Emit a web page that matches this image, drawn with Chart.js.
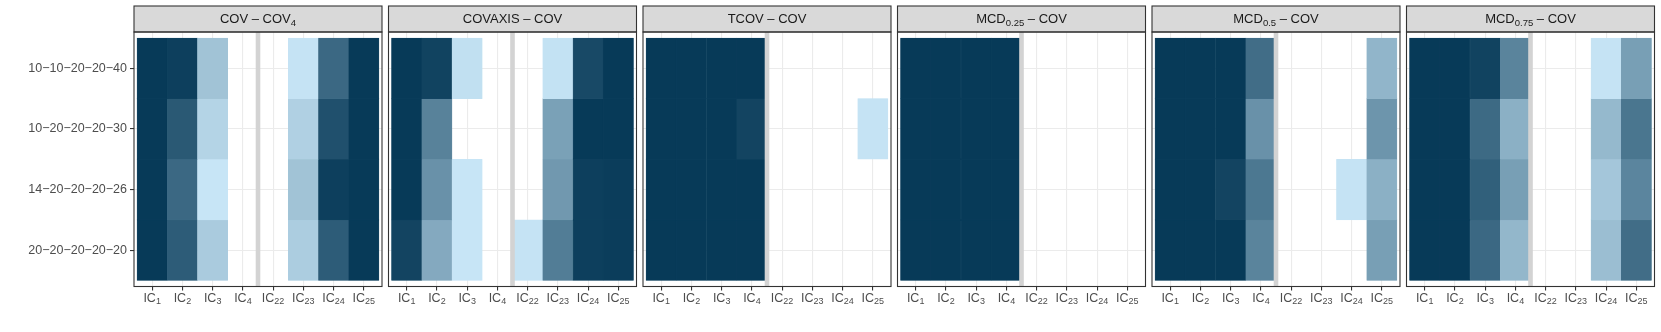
<!DOCTYPE html>
<html>
<head>
<meta charset="utf-8">
<script src="https://cdn.jsdelivr.net/npm/chart.js@4.4.1/dist/chart.umd.min.js"></script>
<style>
  body { margin: 0; background: #fff; }
  #wrap { position: relative; width: 1661px; height: 332px; overflow: hidden; }
  #wrap canvas { position: absolute; top: 0; }
</style>
</head>
<body>
<div id="wrap"></div>
<script>
// rows, top to bottom
const rowLabels = ['10\u221210\u221220\u221220\u221240', '10\u221220\u221220\u221220\u221230', '14\u221220\u221220\u221220\u221226', '20\u221220\u221220\u221220\u221220'];
// x categories are IC with these subscripts
const icSubs = ['1', '2', '3', '4', '22', '23', '24', '25'];
const lastOfFirstGroup = '4';
// facet titles: [text, subscript, text after]
const panelTitles = [
  ['COV \u2013 COV', '4', ''],
  ['COVAXIS \u2013 COV', '', ''],
  ['TCOV \u2013 COV', '', ''],
  ['MCD', '0.25', ' \u2013 COV'],
  ['MCD', '0.5', ' \u2013 COV'],
  ['MCD', '0.75', ' \u2013 COV']
];

// cell values (0 = lightest, 1 = darkest), null = empty cell
const covCov4 = [
  [1.00, 0.97, 0.20, null, null, 0.01, 0.73, 1.00],
  [1.00, 0.82, 0.10, null, null, 0.12, 0.87, 1.00],
  [1.00, 0.73, 0.00, null, null, 0.20, 0.97, 1.00],
  [1.00, 0.80, 0.15, null, null, 0.14, 0.80, 1.00]
];
const covaxisCov = [
  [1.00, 0.95, 0.03, null, null, 0.02, 0.91, 1.00],
  [1.00, 0.58, null, null, null, 0.40, 1.00, 1.00],
  [1.00, 0.49, 0.00, null, null, 0.45, 0.97, 0.98],
  [0.94, 0.35, 0.00, null, 0.01, 0.61, 0.97, 0.98]
];
const tcovCov = [
  [1.00, 1.00, 1.00, 1.00, null, null, null, null],
  [1.00, 1.00, 1.00, 0.94, null, null, null, 0.01],
  [1.00, 1.00, 1.00, 1.00, null, null, null, null],
  [1.00, 1.00, 1.00, 1.00, null, null, null, null]
];
const mcd025Cov = [
  [1.00, 1.00, 1.00, 1.00, null, null, null, null],
  [1.00, 1.00, 1.00, 1.00, null, null, null, null],
  [1.00, 1.00, 1.00, 1.00, null, null, null, null],
  [1.00, 1.00, 1.00, 1.00, null, null, null, null]
];
const mcd05Cov = [
  [1.00, 1.00, 1.00, 0.70, null, null, null, 0.28],
  [1.00, 1.00, 1.00, 0.49, null, null, null, 0.47],
  [1.00, 1.00, 0.94, 0.64, null, null, 0.01, 0.31],
  [1.00, 1.00, 1.00, 0.57, null, null, null, 0.41]
];
const mcd075Cov = [
  [1.00, 1.00, 0.95, 0.57, null, null, 0.01, 0.41],
  [1.00, 1.00, 0.72, 0.31, null, null, 0.26, 0.65],
  [1.00, 1.00, 0.78, 0.41, null, null, 0.18, 0.56],
  [1.00, 1.00, 0.73, 0.27, null, null, 0.23, 0.70]
];
const panelValues = [covCov4, covaxisCov, tcovCov, mcd025Cov, mcd05Cov, mcd075Cov];

// layout
const FONT = '"Liberation Sans", Arial, Helvetica, sans-serif';
const H = 332;
const PANEL_LEFT0 = 134, PANEL_STEP = 254.5, PANEL_W = 248;
const PANEL_TOP = 32, PANEL_BOTTOM = 286.5, STRIP_TOP = 6;
const TICK_LEN = 4;

const LOW = [199, 229, 246], HIGH = [7, 58, 88];
function fillFor(v) {
  const c = LOW.map((l, k) => Math.round(l + (HIGH[k] - l) * v));
  return 'rgb(' + c.join(',') + ')';
}

// text with a subscript part, centred on cx
function drawRich(ctx, cx, y, parts, size, subSize, drop, color) {
  const [a, s, b] = parts;
  ctx.font = size + 'px ' + FONT;
  const wa = ctx.measureText(a).width;
  const wb = b ? ctx.measureText(b).width : 0;
  ctx.font = subSize + 'px ' + FONT;
  const ws = s ? ctx.measureText(s).width : 0;
  let x = cx - (wa + ws + wb) / 2;
  ctx.fillStyle = color;
  ctx.textAlign = 'left';
  ctx.textBaseline = 'alphabetic';
  ctx.font = size + 'px ' + FONT;
  ctx.fillText(a, x, y);
  x += wa;
  if (s) {
    ctx.font = subSize + 'px ' + FONT;
    ctx.fillText(s, x, y + drop);
    x += ws;
  }
  if (b) {
    ctx.font = size + 'px ' + FONT;
    ctx.fillText(b, x, y);
  }
}

const facetPlugin = {
  id: 'facet',
  afterDatasetsDraw(chart) {
    const ctx = chart.ctx;
    const {top, bottom} = chart.chartArea;
    const sep = chart.scales.x.getPixelForValue(icSubs.indexOf(lastOfFirstGroup) + 0.5);
    ctx.save();
    ctx.fillStyle = '#d3d3d3';
    ctx.fillRect(sep - 2.3, top, 4.6, bottom - top);
    ctx.restore();
  },
  afterDraw(chart, args, opts) {
    const ctx = chart.ctx;
    const {left, right, top, bottom} = chart.chartArea;
    ctx.save();
    // strip
    ctx.fillStyle = '#d9d9d9';
    ctx.fillRect(left, STRIP_TOP, right - left, top - STRIP_TOP);
    ctx.strokeStyle = '#333333';
    ctx.lineWidth = 1.1;
    ctx.strokeRect(left, STRIP_TOP, right - left, top - STRIP_TOP);
    // panel border
    ctx.strokeRect(left, top, right - left, bottom - top);
    drawRich(ctx, (left + right) / 2, 23, panelTitles[opts.index], 13, 9.5, 2.5, '#1a1a1a');
    // x tick labels
    icSubs.forEach((s, k) => {
      const x = chart.scales.x.getPixelForValue(k);
      drawRich(ctx, x, 302.3, ['IC', s, ''], 12.5, 9, 2, '#4d4d4d');
    });
    ctx.restore();
  }
};

const wrap = document.getElementById('wrap');

function makePanel(i) {
  const first = i === 0;
  const panelLeft = PANEL_LEFT0 + i * PANEL_STEP;
  const canvasLeft = first ? 0 : Math.floor(panelLeft) - 3;
  const canvasRight = Math.ceil(panelLeft + PANEL_W) + 3;
  const width = canvasRight - canvasLeft;

  const canvas = document.createElement('canvas');
  canvas.width = width;
  canvas.height = H;
  canvas.style.left = canvasLeft + 'px';
  canvas.style.width = width + 'px';
  canvas.style.height = H + 'px';
  wrap.appendChild(canvas);

  const datasets = panelValues[i].map((row, r) => {
    const data = [];
    row.forEach((v, c) => {
      if (v !== null) data.push({x: c, y: [3 - r, 4 - r], v: v});
    });
    return {
      data: data,
      backgroundColor: ctx => fillFor(ctx.raw.v),
      // faint seam, a touch lighter than the tile
      borderColor: ctx => fillFor(ctx.raw.v * 0.97),
      borderWidth: 0.5,
      borderSkipped: false,
      grouped: false,
      barPercentage: 1,
      categoryPercentage: 1
    };
  });

  new Chart(canvas, {
    type: 'bar',
    data: {datasets: datasets},
    plugins: [facetPlugin],
    options: {
      responsive: false,
      animation: false,
      events: [],
      layout: {
        padding: {
          left: first ? 0 : panelLeft - canvasLeft,
          right: canvasRight - (panelLeft + PANEL_W),
          top: PANEL_TOP,
          bottom: H - PANEL_BOTTOM - TICK_LEN
        }
      },
      plugins: {
        legend: {display: false},
        tooltip: {enabled: false},
        facet: {index: i}
      },
      scales: {
        x: {
          type: 'linear',
          min: -0.6,
          max: icSubs.length - 0.4,
          offset: false,
          afterBuildTicks: s => { s.ticks = icSubs.map((_, k) => ({value: k})); },
          afterFit: s => { s.height = TICK_LEN; },
          ticks: {display: false},
          border: {display: false},
          grid: {offset: false, color: '#ebebeb', lineWidth: 1.1, tickColor: '#333333', tickWidth: 1.1, tickLength: TICK_LEN, drawTicks: true}
        },
        y: {
          type: 'linear',
          min: -0.1,
          max: rowLabels.length + 0.1,
          afterBuildTicks: s => { s.ticks = rowLabels.map((_, k) => ({value: rowLabels.length - 0.5 - k})); },
          afterFit: s => { s.width = first ? PANEL_LEFT0 : 0; },
          ticks: {
            display: first,
            autoSkip: false,
            padding: 3,
            color: '#4d4d4d',
            font: {family: FONT, size: 12.5},
            callback: v => rowLabels[Math.round(rowLabels.length - 0.5 - v)]
          },
          border: {display: false},
          grid: {color: '#ebebeb', lineWidth: 1.1, tickColor: '#333333', tickWidth: 1.1, tickLength: TICK_LEN, drawTicks: first}
        }
      }
    }
  });
}

for (let i = 0; i < panelValues.length; i++) makePanel(i);
</script>
</body>
</html>
